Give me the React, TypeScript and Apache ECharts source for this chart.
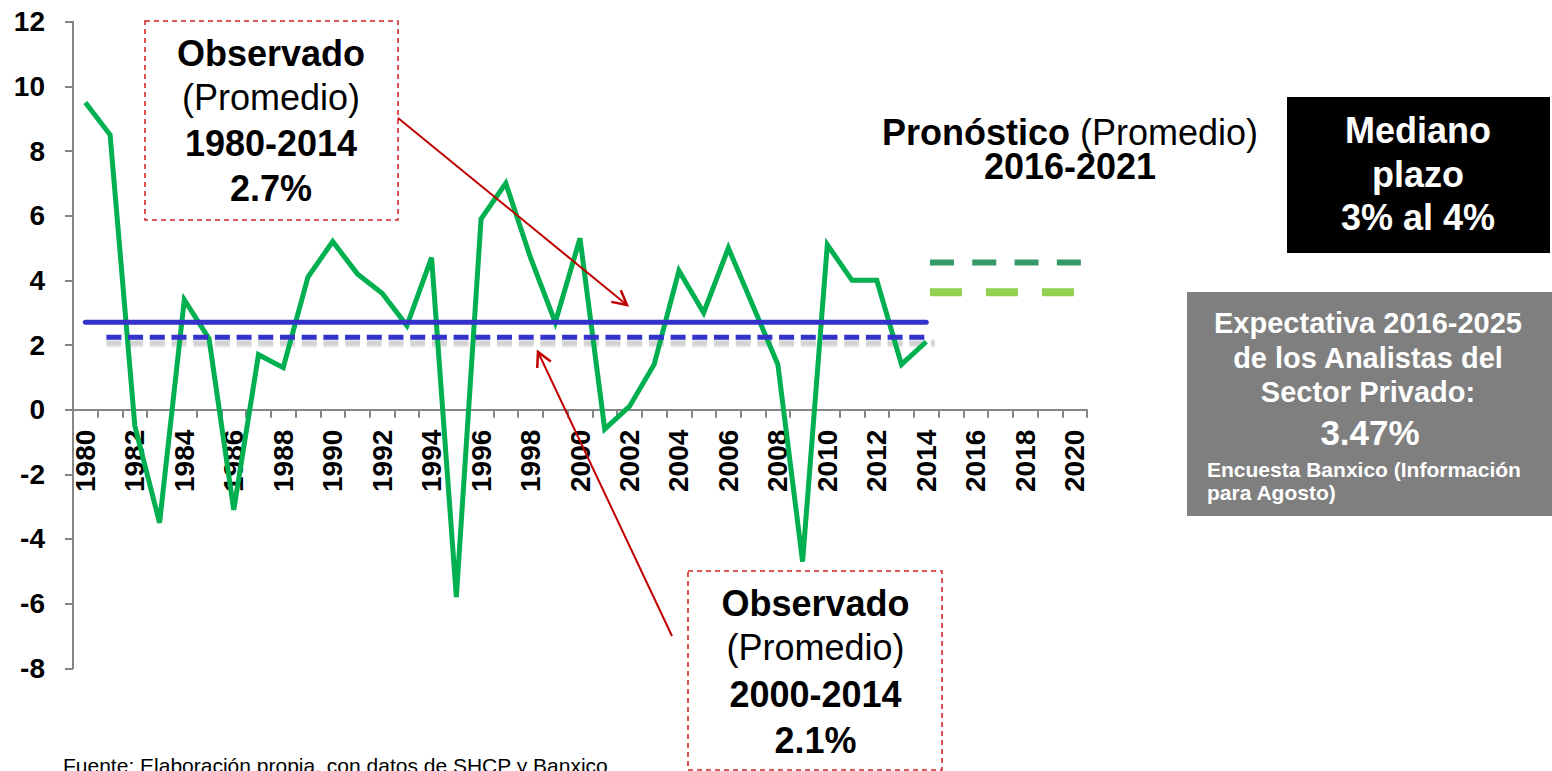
import React, { useEffect, useRef } from "react";
import * as echarts from "echarts";

// ---- data ----
const years: string[] = [
  "1980","1981","1982","1983","1984","1985","1986","1987","1988","1989",
  "1990","1991","1992","1993","1994","1995","1996","1997","1998","1999",
  "2000","2001","2002","2003","2004","2005","2006","2007","2008","2009",
  "2010","2011","2012","2013","2014","2015","2016","2017","2018","2019","2020",
];
const gdpGrowth: number[] = [
  9.5, 8.5, -0.5, -3.5, 3.4, 2.2, -3.1, 1.7, 1.3, 4.1,
  5.2, 4.2, 3.6, 2.6, 4.7, -5.8, 5.9, 7.0, 4.7, 2.7,
  5.3, -0.6, 0.1, 1.4, 4.3, 3.0, 5.0, 3.2, 1.4, -4.7,
  5.1, 4.0, 4.0, 1.4, 2.1,
];
const avg1980Years = [1980, 2014];
const avg1980Value = 2.7;
const avg2000Years = [1980.85, 2014.1];
const avg2000Value = 2.24;
const forecastMedYears = [2014.15, 2021.47];
const forecastMedValue = 4.55;
const forecastPrivYears = [2014.15, 2022.12];
const forecastPrivValue = 3.63;
const yTicks = { min: -8, max: 12, interval: 2 };

const FONT = 'Arial, "Liberation Sans", sans-serif';

function arrow(x1: number, y1: number, x2: number, y2: number, color: string) {
  const ang = Math.atan2(y2 - y1, x2 - x1);
  const L = 16;
  const a = (28 * Math.PI) / 180;
  const w1 = [x2 - L * Math.cos(ang - a), y2 - L * Math.sin(ang - a)];
  const w2 = [x2 - L * Math.cos(ang + a), y2 - L * Math.sin(ang + a)];
  return [
    { type: "line", z: 100, shape: { x1, y1, x2, y2 }, style: { stroke: color, lineWidth: 2 } },
    { type: "polyline", z: 100, shape: { points: [w1, [x2, y2], w2] }, style: { stroke: color, lineWidth: 2.5, fill: "none" } },
  ];
}

function txt(x: number, y: number, text: string, size: number, bold: boolean, color = "#000", align = "center") {
  return {
    type: "text",
    z: 100,
    x,
    y,
    style: {
      text,
      fill: color,
      fontSize: size,
      fontWeight: bold ? "bold" : "normal",
      fontFamily: FONT,
      align,
      verticalAlign: "middle",
    },
  };
}

export default function App() {
  const ref = useRef<HTMLDivElement>(null);
  useEffect(() => {
    if (!ref.current) return;
    const chart = echarts.init(ref.current, undefined, { renderer: "svg" });
    const red = "#C00000";
    const boxRed = "#D02626";
    const staticGraphics: any[] = [
      {
        type: "rect",
        z: 99,
        shape: { x: 145, y: 21, width: 253, height: 199 },
        style: { fill: "#fff", stroke: boxRed, lineWidth: 1.6, lineDash: [5, 4] },
      },
      txt(271, 53.4, "Observado", 36, true),
      txt(271, 97.4, "(Promedio)", 36, false),
      txt(271, 143.4, "1980-2014", 36, true),
      txt(271, 188.4, "2.7%", 36, true),
      {
        type: "rect",
        z: 99,
        shape: { x: 688, y: 571, width: 254, height: 199 },
        style: { fill: "#fff", stroke: boxRed, lineWidth: 1.6, lineDash: [5, 4] },
      },
      txt(815.5, 603.4, "Observado", 36, true),
      txt(815.5, 647.4, "(Promedio)", 36, false),
      txt(815.5, 694.4, "2000-2014", 36, true),
      txt(815.5, 740.4, "2.1%", 36, true),
      ...arrow(398, 118, 627, 305, red),
      ...arrow(672, 636, 538, 352, red),
      {
        type: "text",
        z: 100,
        x: 1070,
        y: 132.4,
        style: {
          text: "{b|Pronóstico} {r|(Promedio)}",
          fontSize: 36,
          fontFamily: FONT,
          fill: "#000",
          align: "center",
          verticalAlign: "middle",
          rich: {
            b: { fontSize: 36, fontWeight: "bold", fontFamily: FONT, fill: "#000" },
            r: { fontSize: 36, fontWeight: "normal", fontFamily: FONT, fill: "#000" },
          },
        },
      },
      txt(1070, 166.4, "2016-2021", 36, true),
      { type: "rect", z: 99, shape: { x: 1287, y: 97, width: 263, height: 156 }, style: { fill: "#000" } },
      txt(1418, 130.4, "Mediano", 36, true, "#fff"),
      txt(1418, 174.4, "plazo", 36, true, "#fff"),
      txt(1418, 217.4, "3% al 4%", 36, true, "#fff"),
      { type: "rect", z: 99, shape: { x: 1187, y: 292, width: 365, height: 224 }, style: { fill: "#7F7F7F" } },
      txt(1368, 322.8, "Expectativa 2016-2025", 29, true, "#fff"),
      txt(1368, 357.8, "de los Analistas del", 29, true, "#fff"),
      txt(1368, 391.8, "Sector Privado:", 29, true, "#fff"),
      txt(1370, 432.8, "3.47%", 35, true, "#fff"),
      txt(1207, 469.6, "Encuesta Banxico (Información", 21, true, "#fff", "left"),
      txt(1207, 492.6, "para Agosto)", 21, true, "#fff", "left"),
      txt(63, 765, "Fuente: Elaboración propia, con datos de SHCP y Banxico", 21, false, "#000", "left"),
    ];
    const option: any = {
      animation: false,
      backgroundColor: "#fff",
      grid: { left: 73, right: 465, top: 21.7, bottom: 102.7, containLabel: false },
      xAxis: [
        {
          type: "category",
          data: years,
          boundaryGap: true,
          position: "bottom",
          offset: 0,
          axisLine: { onZero: false, lineStyle: { color: "#868686", width: 2 } },
          axisTick: { show: true, interval: 0, length: 8, lineStyle: { color: "#868686", width: 2 } },
          axisLabel: {
            interval: 1,
            rotate: 90,
            margin: 20,
            fontSize: 28,
            fontWeight: "bold",
            fontFamily: FONT,
            color: "#000",
          },
          splitLine: { show: false },
        },
        {
          type: "value",
          min: 1979.5,
          max: 2020.5,
          show: false,
          axisLine: { onZero: false },
        },
      ],
      yAxis: {
        type: "value",
        min: yTicks.min,
        max: yTicks.max,
        interval: yTicks.interval,
        axisLine: { show: true, onZero: false, lineStyle: { color: "#868686", width: 2 } },
        axisTick: { show: true, length: 8, lineStyle: { color: "#868686", width: 2 } },
        axisLabel: { margin: 28, fontSize: 28, fontWeight: "bold", fontFamily: FONT, color: "#000" },
        splitLine: { show: false },
      },
      series: [
        {
          type: "line",
          data: gdpGrowth,
          xAxisIndex: 0,
          showSymbol: false,
          symbol: "none",
          lineStyle: { color: "#00B050", width: 5, join: "miter" },
          z: 3,
        },
        {
          type: "line",
          xAxisIndex: 1,
          data: avg2000Years.map((y) => [y, avg2000Value]),
          symbol: "none",
          clip: false,
          lineStyle: { color: "#3333CC", width: 5, type: [15, 6.7], cap: "butt" },
          z: 4,
        },
        {
          type: "line",
          xAxisIndex: 1,
          data: avg1980Years.map((y) => [y, avg1980Value]),
          symbol: "none",
          clip: false,
          lineStyle: { color: "#3333CC", width: 5, cap: "round" },
          z: 5,
        },
        {
          type: "line",
          xAxisIndex: 1,
          data: forecastMedYears.map((y) => [y, forecastMedValue]),
          symbol: "none",
          clip: false,
          lineStyle: { color: "#339966", width: 6, type: [24, 18.3], cap: "butt" },
          z: 4,
        },
        {
          type: "line",
          xAxisIndex: 1,
          data: forecastPrivYears.map((y) => [y, forecastPrivValue]),
          symbol: "none",
          clip: false,
          lineStyle: { color: "#92D050", width: 8, type: [32, 24], cap: "butt" },
          z: 4,
        },
      ],
      graphic: staticGraphics,
    };
    chart.setOption(option);

    // place the category axis on the y = 0 line using the chart's own scale
    const yZero = chart.convertToPixel({ yAxisIndex: 0 } as any, 0) as number;
    const yMin = chart.convertToPixel({ yAxisIndex: 0 } as any, yTicks.min) as number;
    const p1 = chart.convertToPixel({ xAxisIndex: 1, yAxisIndex: 0 } as any, [avg2000Years[0], avg2000Value]) as number[];
    const p2 = chart.convertToPixel({ xAxisIndex: 1, yAxisIndex: 0 } as any, [avg2000Years[1], avg2000Value]) as number[];
    const extra: any[] = [];
    if (p1 && p2) {
      extra.push(
        {
          type: "line",
          z: 1,
          shape: { x1: p1[0], y1: p1[1] + 6, x2: p2[0] + 6, y2: p2[1] + 6 },
          style: { stroke: "rgba(0,0,0,0.10)", lineWidth: 8, lineDash: [15, 6.7] },
        },
        {
          type: "line",
          z: 1,
          shape: { x1: p1[0], y1: p1[1] + 6, x2: p2[0] + 6, y2: p2[1] + 6 },
          style: { stroke: "rgba(0,0,0,0.08)", lineWidth: 4, lineDash: [15, 6.7] },
        }
      );
    }
    chart.setOption({
      xAxis: [{ offset: typeof yZero === "number" && typeof yMin === "number" ? yZero - yMin : 0 }, {}],
      graphic: [...staticGraphics, ...extra],
    });
    return () => chart.dispose();
  }, []);
  return (
    <div
      ref={ref}
      style={{ position: "fixed", left: 0, top: 0, width: 1552, height: 771, background: "#fff" }}
    />
  );
}
